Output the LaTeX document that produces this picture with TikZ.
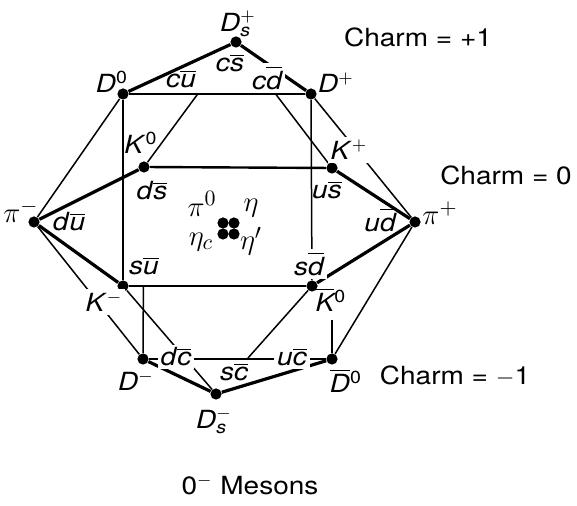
\documentclass[tikz,border=0pt]{standalone}
\usepackage{amsmath}
\usepackage{fontspec}
\setmainfont{TeX Gyre Heros}[FakeStretch=1.12]
\usetikzlibrary{calc}
\newcommand{\qk}[2]{\textit{#1}$\overline{\text{\itshape #2}}$}
\newcommand{\bq}[1]{$\overline{\text{\itshape #1}}$}

\begin{document}
\begin{tikzpicture}[x=0.5pt, y=-0.5pt,
  every node/.style={font=\fontsize{12.5}{14}\selectfont},
  dot/.style={circle, fill, inner sep=0pt, minimum size=5.6pt},
  lbl/.style={inner sep=1pt},
  gap/.style={fill=white, inner sep=1.5pt},
  grk/.style={inner sep=1pt, font=\fontsize{15}{17}\selectfont},
  rim/.style={line width=1.6pt},
  mid/.style={line width=1.2pt},
  thin/.style={line width=0.75pt}]
\useasboundingbox (0,0) rectangle (577,506);
% charm = +1
\node[dot] (Dsp) at (236,42) {};
\node[dot] (Dz)  at (123,94) {};
\node[dot] (Dp)  at (311,94) {};
% charm = 0
\node[dot] (Kz)  at (144,167) {};
\node[dot] (Kp)  at (332,168) {};
\node[dot] (pim) at (34,222) {};
\node[dot] (pip) at (415,222) {};
\node[dot] (Km)  at (123,286) {};
\node[dot] (Kbz) at (312,286) {};
\foreach \x/\y [count=\i] in {223/223,234/223,223/234,234/234}
  \node[dot] (eta\i) at (\x,\y) {};
% charm = -1
\node[dot] (Dm)  at (143,359) {};
\node[dot] (Dbz) at (332,359) {};
\node[dot] (Dsm) at (216,394) {};
% ends of hidden edges
\coordinate (hKz) at ($(Kz)!0.584!(Dsp)$);
\coordinate (hKp) at ($(Kp)!0.587!(Dsp)$);
\coordinate (hDm) at ($(Dm)!0.38!(Kz)$);
\coordinate (hDbz) at ($(Dbz)!0.204!(Kp)$);
\coordinate (hKbz) at ($(Kbz)!0.667!(Dsm)$);
% outer rim
\draw[rim] (Dz) -- (Dsp) -- (Dp);
\draw[rim] (Kz) -- (pim) -- (Km);
\draw[rim] (Kp) -- (pip) -- (Kbz);
\draw[rim] (Dm) -- (Dsm) -- (Dbz);
% the three layers
\draw[mid] (Dz) -- (Dp);
\draw[mid] (Kz) -- (Kp);
\draw[mid] (Km) -- (Kbz);
\draw[thin] (Dm) -- (Dbz);
% edges between layers
\draw[thin] (Dz) -- (pim);
\draw[thin] (Dp) -- (pip);
\draw[thin] (Dm) -- (pim);
\draw[thin] (Dbz) -- (pip);
\draw[thin] (Dz) -- (Km);
\draw[thin] (Dp) -- (Kbz);
\draw[thin] (Km) -- (Dsm);
\draw[thin] (Kz) -- (hKz);
\draw[thin] (Kp) -- (hKp);
\draw[thin] (Dm) -- (hDm);
\draw[thin] (Dbz) -- (hDbz);
\draw[thin] (Kbz) -- (hKbz);
% labels, charm = +1
\node[lbl] (lDsp) at (238,24) {\textit{D}$^{+}_{\text{\itshape s}}$};
\node[lbl] (lcs)  at (230,63) {\qk{c}{s}};
\node[lbl] (lDz)  at (112,82) {\textit{D}$^{\text{0}}$};
\node[lbl] (lcu)  at (181,79) {\qk{c}{u}};
\node[gap] (lcd)  at (267,78) {\qk{c}{d}};
\node[lbl] (lDp)  at (336,83) {\textit{D}$^{+}$};
\node[lbl] (ch1)  at (418,37) {Charm = +1};
% labels, charm = 0
\node[lbl] (lKz)  at (141,143) {\textit{K}$^{\text{0}}$};
\node[gap] (lKp)  at (349,150) {\textit{K}$^{+}$};
\node[lbl] (lds)  at (152,191) {\qk{d}{s}};
\node[lbl] (lus)  at (327,190) {\qk{u}{s}};
\node[grk] (lpim) at (21,211) {$\pi^-$};
\node[lbl] (ldu)  at (69,222) {\qk{d}{u}};
\node[lbl] (lud)  at (380,220) {\qk{u}{d}};
\node[grk] (lpip) at (440,213) {$\pi^+$};
\node[lbl] (ch0)  at (506,175) {Charm = 0};
\node[grk] (lpiz) at (202,204) {$\pi^0$};
\node[grk] (leta) at (251,208) {$\eta$};
\node[grk] (letc) at (201,242) {$\eta_c$};
\node[grk] (letp) at (251,241) {$\eta'$};
\node[lbl] (lsu)  at (144,266) {\qk{s}{u}};
\node[gap] (lsd)  at (309,264) {\qk{s}{d}};
\node[gap] (lKm)  at (104,302) {\textit{K}$^{-}$};
\node[lbl] (lKbz) at (331,300) {\bq{K}$^{\text{0}}$};
% labels, charm = -1
\node[gap] (ldc)  at (176,357) {\qk{d}{c}};
\node[lbl] (lsc)  at (234,372) {\qk{s}{c}};
\node[gap] (luc)  at (292,357) {\qk{u}{c}};
\node[lbl] (lDm)  at (136,381) {\textit{D}$^{-}$};
\node[lbl] (lDbz) at (346,381) {\bq{D}$^{\text{0}}$};
\node[lbl] (lDsm) at (214,421) {\textit{D}$^{-}_{\text{\itshape s}}$};
\node[lbl] (chm)  at (455,376) {Charm = $-$1};
% title
\node[lbl] (title) at (250,485) {0$^{-}$ Mesons};
\end{tikzpicture}
\end{document}
